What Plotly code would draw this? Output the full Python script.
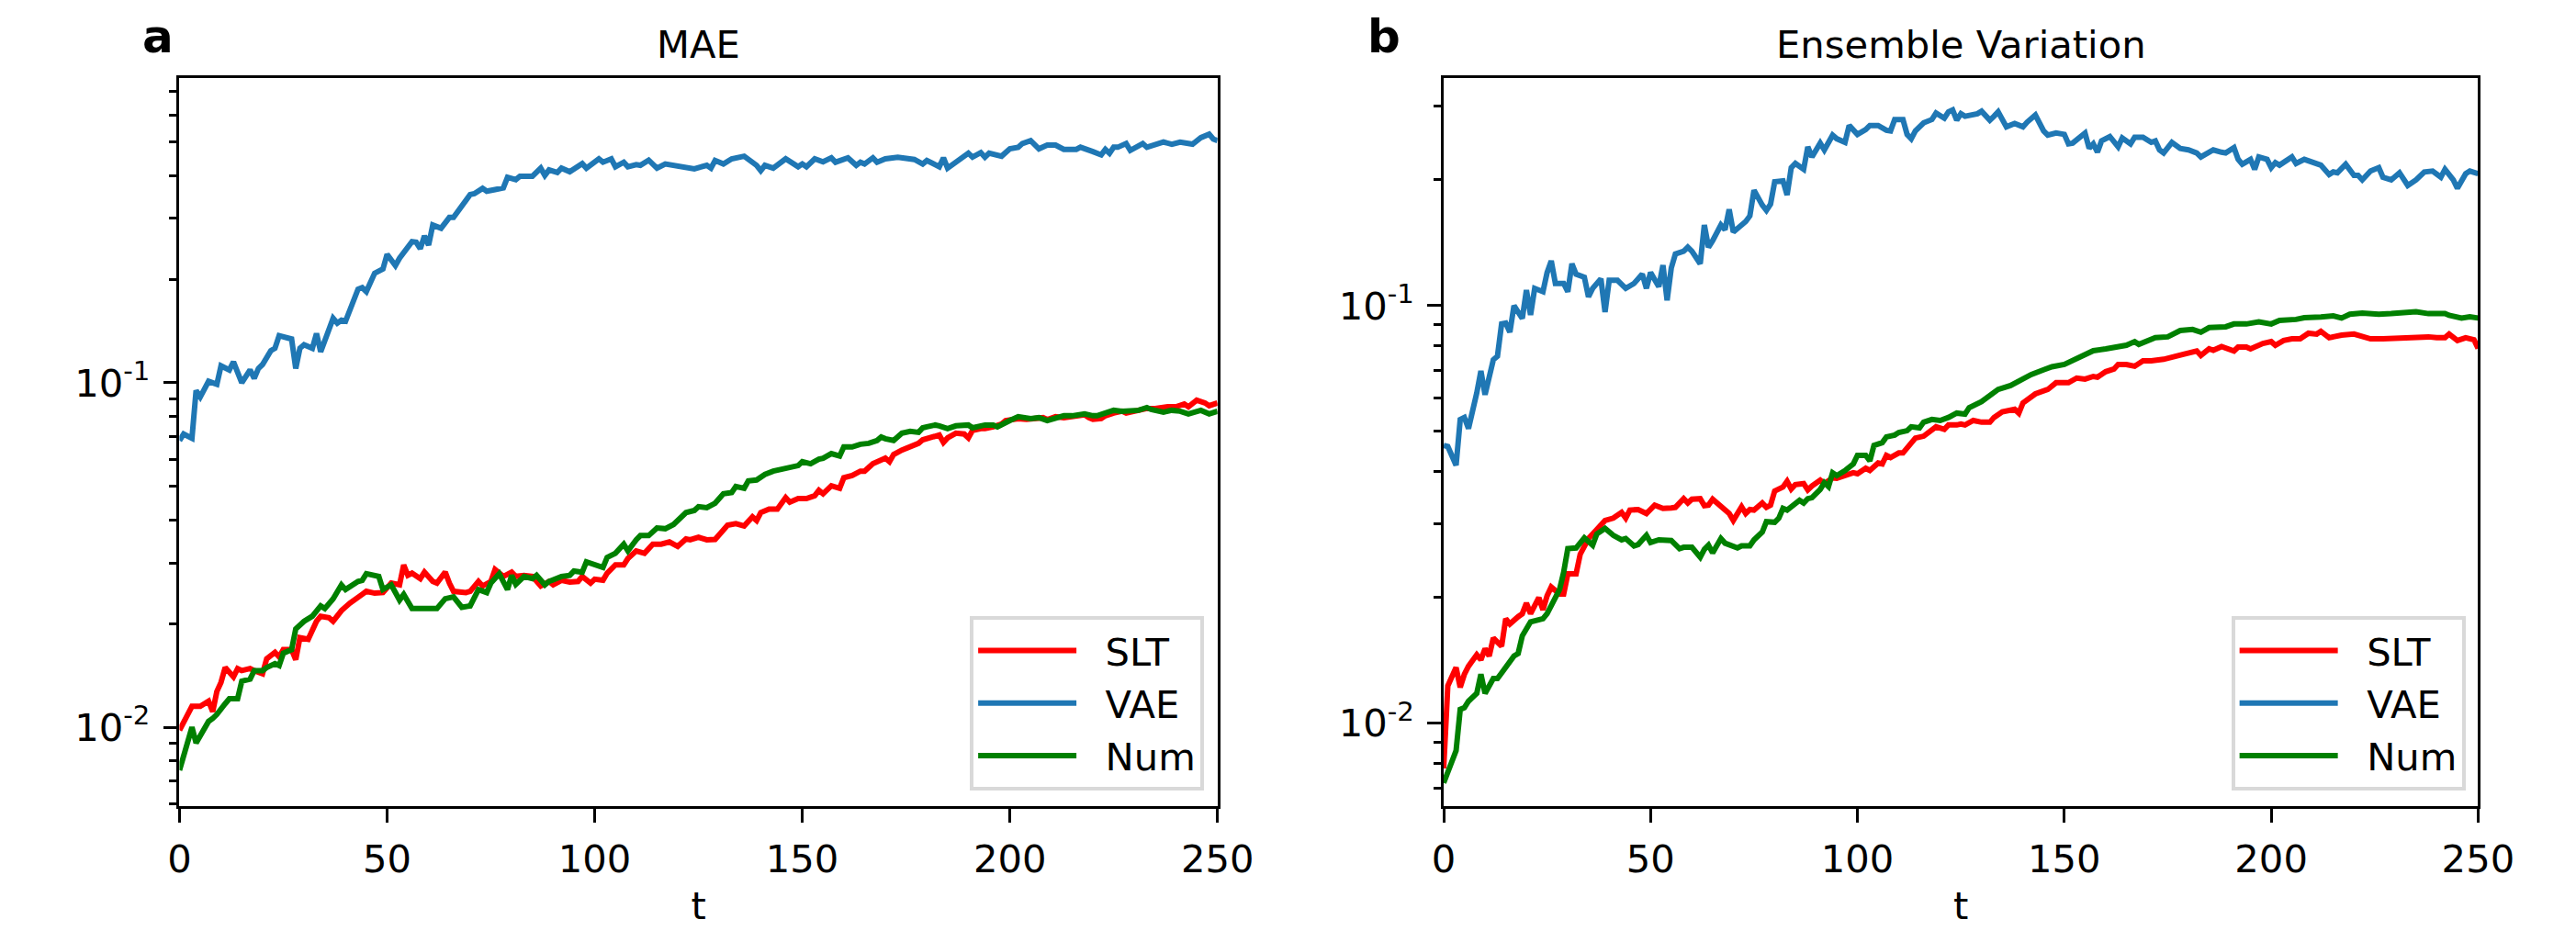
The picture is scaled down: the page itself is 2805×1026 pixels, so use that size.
import plotly.graph_objects as go

# panel a: MAE
mae_slt_t = [0, 2, 3, 5, 7, 8, 9, 10, 11, 13, 14, 15, 17, 18, 20, 21, 23, 24, 25, 27, 28, 29, 31, 33, 34, 36, 37, 39, 41, 44,
             45, 47, 49, 51, 53, 54, 55, 56, 58, 59, 61, 62, 64, 65, 66, 69, 70, 72, 73, 75, 76, 78, 80, 81, 83, 85, 87, 89, 90, 92,
             94, 96, 97, 99, 100, 102, 103, 105, 107, 108, 110, 112, 114, 116, 118, 120, 122, 123, 125, 127, 129, 131, 132, 134, 136, 138, 139, 140, 142, 144,
             146, 147, 149, 151, 153, 154, 155, 157, 159, 160, 162, 164, 165, 167, 168, 170, 171, 172, 174, 175, 177, 178, 179, 181, 183, 184, 185, 187, 189, 190,
             191, 193, 194, 196, 198, 199, 202, 204, 206, 208, 209, 211, 213, 215, 218, 219, 220, 222, 223, 225, 227, 228, 230, 232, 233, 235, 237, 238, 240, 242,
             243, 245, 247, 248, 250]
mae_slt = [0.0098, 0.0109, 0.0115, 0.0115, 0.0119, 0.0111, 0.0127, 0.0135, 0.0149, 0.0140, 0.0148, 0.0146, 0.0148, 0.0146, 0.0143, 0.0158, 0.0165, 0.0160, 0.0168, 0.0168, 0.0157, 0.0182, 0.0180, 0.0203, 0.0210, 0.0208, 0.0203, 0.0218, 0.0229, 0.0243,
           0.0248, 0.0245, 0.0246, 0.0262, 0.0259, 0.0296, 0.0276, 0.0280, 0.0270, 0.0282, 0.0265, 0.0262, 0.0282, 0.0262, 0.0248, 0.0246, 0.0248, 0.0265, 0.0257, 0.0265, 0.0287, 0.0274, 0.0282, 0.0274, 0.0276, 0.0274, 0.0257, 0.0265, 0.0259, 0.0267,
           0.0264, 0.0265, 0.0274, 0.0262, 0.0269, 0.0267, 0.0280, 0.0296, 0.0296, 0.0309, 0.0325, 0.0320, 0.0340, 0.0340, 0.0345, 0.0335, 0.0352, 0.0350, 0.0356, 0.0350, 0.0351, 0.0374, 0.0386, 0.0390, 0.0384, 0.0408, 0.0398, 0.0420, 0.0430, 0.0430,
           0.0464, 0.0450, 0.0461, 0.0461, 0.0470, 0.0487, 0.0476, 0.0502, 0.0494, 0.0530, 0.0538, 0.0554, 0.0554, 0.0582, 0.0590, 0.0604, 0.0590, 0.0619, 0.0638, 0.0646, 0.0663, 0.0667, 0.0683, 0.0692, 0.0705, 0.0671, 0.0692, 0.0714, 0.0710, 0.0692,
           0.0727, 0.0736, 0.0736, 0.0745, 0.0759, 0.0777, 0.0787, 0.0783, 0.0787, 0.0792, 0.0782, 0.0797, 0.0792, 0.0797, 0.0807, 0.0792, 0.0783, 0.0787, 0.0802, 0.0817, 0.0827, 0.0817, 0.0827, 0.0832, 0.0842, 0.0842, 0.0852, 0.0852, 0.0852, 0.0868,
           0.0852, 0.0890, 0.0874, 0.0858, 0.0874]

mae_vae_t = [0, 1, 3, 4, 5, 7, 9, 10, 12, 13, 15, 17, 18, 19, 20, 22, 23, 24, 27, 28, 29, 30, 32, 33, 34, 37, 38, 39, 40, 43,
             44, 45, 47, 49, 50, 52, 53, 54, 56, 57, 58, 59, 60, 61, 63, 65, 66, 70, 71, 73, 74, 76, 78, 79, 81, 82, 85, 87, 88, 89,
             91, 92, 94, 97, 98, 101, 102, 104, 105, 107, 108, 110, 111, 113, 115, 117, 122, 124, 127, 128, 129, 131, 133, 136, 139, 140, 141, 143, 146, 149,
             150, 151, 153, 155, 157, 158, 161, 163, 164, 165, 167, 168, 170, 173, 177, 179, 180, 183, 184, 185, 190, 191, 193, 194, 195, 198, 200, 202, 203, 205,
             207, 209, 211, 213, 216, 217, 220, 222, 223, 224, 225, 226, 228, 229, 232, 233, 237, 239, 241, 244, 246, 248, 249, 250]
mae_vae = [0.068, 0.071, 0.069, 0.095, 0.091, 0.101, 0.099, 0.112, 0.109, 0.115, 0.100, 0.109, 0.103, 0.110, 0.113, 0.124, 0.126, 0.137, 0.134, 0.110, 0.126, 0.129, 0.126, 0.139, 0.123, 0.154, 0.149, 0.152, 0.151, 0.187,
           0.189, 0.184, 0.208, 0.214, 0.236, 0.219, 0.230, 0.238, 0.257, 0.256, 0.245, 0.267, 0.251, 0.287, 0.281, 0.302, 0.302, 0.352, 0.354, 0.367, 0.360, 0.364, 0.368, 0.395, 0.389, 0.398, 0.398, 0.420, 0.400, 0.415,
           0.408, 0.420, 0.410, 0.433, 0.420, 0.447, 0.437, 0.447, 0.424, 0.437, 0.424, 0.430, 0.428, 0.443, 0.420, 0.432, 0.424, 0.418, 0.428, 0.420, 0.442, 0.432, 0.447, 0.455, 0.428, 0.413, 0.428, 0.420, 0.447, 0.424,
           0.432, 0.424, 0.447, 0.438, 0.450, 0.437, 0.450, 0.428, 0.437, 0.432, 0.450, 0.437, 0.447, 0.452, 0.445, 0.432, 0.442, 0.424, 0.450, 0.420, 0.464, 0.452, 0.466, 0.452, 0.464, 0.455, 0.478, 0.483, 0.495, 0.505,
           0.478, 0.490, 0.490, 0.476, 0.476, 0.483, 0.469, 0.459, 0.476, 0.464, 0.483, 0.483, 0.495, 0.473, 0.495, 0.483, 0.500, 0.493, 0.500, 0.493, 0.515, 0.527, 0.510, 0.505]

mae_num_t = [0, 1, 3, 4, 5, 7, 8, 9, 11, 12, 14, 15, 17, 18, 20, 21, 23, 24, 25, 27, 28, 30, 32, 34, 35, 37, 39, 40, 43, 44,
             45, 48, 49, 51, 53, 54, 56, 59, 61, 62, 64, 66, 68, 70, 72, 74, 75, 77, 79, 80, 81, 83, 85, 86, 88, 89, 92, 94, 95, 97,
             98, 100, 102, 103, 105, 107, 108, 110, 111, 113, 115, 117, 119, 122, 124, 125, 127, 129, 131, 133, 134, 136, 137, 139, 141, 143, 145, 147, 149, 150,
             152, 154, 155, 157, 159, 160, 162, 164, 166, 168, 169, 170, 172, 174, 176, 178, 179, 180, 182, 183, 185, 187, 189, 190, 191, 193, 194, 196, 197, 200,
             202, 205, 207, 209, 211, 213, 215, 218, 220, 221, 223, 225, 227, 229, 231, 233, 234, 237, 239, 241, 243, 246, 248, 250]
mae_num = [0.0075, 0.0083, 0.0100, 0.0090, 0.0094, 0.0104, 0.0106, 0.0109, 0.0117, 0.0121, 0.0121, 0.0136, 0.0138, 0.0146, 0.0146, 0.0149, 0.0153, 0.0151, 0.0164, 0.0168, 0.0193, 0.0203, 0.0210, 0.0225, 0.0221, 0.0236, 0.0259, 0.0251, 0.0265, 0.0267,
           0.0279, 0.0274, 0.0251, 0.0259, 0.0234, 0.0243, 0.0221, 0.0221, 0.0220, 0.0221, 0.0236, 0.0239, 0.0223, 0.0225, 0.0251, 0.0246, 0.0262, 0.0279, 0.0251, 0.0276, 0.0260, 0.0274, 0.0270, 0.0276, 0.0259, 0.0265, 0.0274, 0.0276, 0.0284, 0.0282,
           0.0302, 0.0296, 0.0291, 0.0311, 0.0320, 0.0340, 0.0325, 0.0350, 0.0360, 0.0360, 0.0379, 0.0377, 0.0388, 0.0420, 0.0426, 0.0437, 0.0434, 0.0447, 0.0476, 0.0480, 0.0500, 0.0494, 0.0519, 0.0522, 0.0542, 0.0554, 0.0562, 0.0572, 0.0575, 0.0590,
           0.0582, 0.0600, 0.0604, 0.0623, 0.0613, 0.0651, 0.0651, 0.0663, 0.0667, 0.0680, 0.0696, 0.0688, 0.0680, 0.0714, 0.0723, 0.0718, 0.0740, 0.0745, 0.0754, 0.0750, 0.0736, 0.0750, 0.0754, 0.0754, 0.0740, 0.0754, 0.0754, 0.0754, 0.0745, 0.0777,
           0.0797, 0.0787, 0.0792, 0.0777, 0.0792, 0.0802, 0.0802, 0.0812, 0.0802, 0.0802, 0.0817, 0.0832, 0.0827, 0.0827, 0.0832, 0.0847, 0.0837, 0.0822, 0.0832, 0.0827, 0.0812, 0.0832, 0.0812, 0.0827]

# panel b: Ensemble Variation
ev_slt_t = [0, 1, 3, 4, 5, 6, 8, 9, 10, 11, 12, 14, 15, 16, 18, 19, 20, 21, 23, 24, 25, 26, 28, 29, 30, 32, 33, 35, 37, 39,
            41, 43, 44, 45, 47, 49, 51, 53, 55, 56, 58, 59, 60, 62, 63, 64, 65, 67, 68, 69, 70, 72, 73, 74, 75, 77, 78, 79, 80, 82,
            83, 84, 85, 87, 88, 89, 91, 92, 94, 95, 97, 99, 100, 102, 103, 105, 106, 107, 108, 110, 111, 113, 114, 116, 117, 119, 121, 122, 124, 125,
            126, 128, 130, 132, 133, 135, 138, 139, 140, 143, 146, 148, 151, 153, 155, 157, 158, 160, 162, 163, 165, 167, 169, 171, 174, 176, 179, 182, 183, 185,
            186, 188, 191, 192, 194, 195, 198, 200, 201, 203, 205, 207, 209, 211, 212, 214, 217, 220, 222, 224, 227, 231, 234, 238, 240, 242, 243, 245, 247, 249,
            250]
ev_slt = [0.0078, 0.0123, 0.0136, 0.0122, 0.0131, 0.0137, 0.0146, 0.0142, 0.0151, 0.0145, 0.0160, 0.0153, 0.0178, 0.0173, 0.0180, 0.0183, 0.0194, 0.0183, 0.0200, 0.0187, 0.0202, 0.0212, 0.0204, 0.0204, 0.0228, 0.0228, 0.0254, 0.0277, 0.0291, 0.0306,
          0.0310, 0.0320, 0.0310, 0.0324, 0.0325, 0.0318, 0.0333, 0.0327, 0.0328, 0.0329, 0.0345, 0.0337, 0.0344, 0.0345, 0.0332, 0.0333, 0.0344, 0.0330, 0.0322, 0.0318, 0.0306, 0.0330, 0.0318, 0.0325, 0.0324, 0.0337, 0.0329, 0.0333, 0.0360, 0.0368,
          0.0380, 0.0364, 0.0373, 0.0375, 0.0362, 0.0370, 0.0382, 0.0375, 0.0387, 0.0386, 0.0392, 0.0398, 0.0396, 0.0408, 0.0403, 0.0420, 0.0418, 0.0438, 0.0433, 0.0444, 0.0444, 0.0468, 0.0482, 0.0487, 0.0497, 0.0513, 0.0506, 0.0518, 0.0518, 0.0521,
          0.0518, 0.0531, 0.0526, 0.0526, 0.0540, 0.0557, 0.0565, 0.0553, 0.0585, 0.0615, 0.0630, 0.0654, 0.0654, 0.0671, 0.0667, 0.0677, 0.0674, 0.0695, 0.0705, 0.0723, 0.0723, 0.0716, 0.0738, 0.0738, 0.0744, 0.0755, 0.0766, 0.0779, 0.0760, 0.0788,
          0.0782, 0.0798, 0.0779, 0.0796, 0.0796, 0.0788, 0.0812, 0.0820, 0.0804, 0.0825, 0.0833, 0.0833, 0.0859, 0.0855, 0.0868, 0.0838, 0.0850, 0.0855, 0.0842, 0.0833, 0.0833, 0.0838, 0.0842, 0.0842, 0.0838, 0.0838, 0.0855, 0.0825, 0.0838, 0.0829,
          0.0790]

ev_vae_t = [0, 1, 3, 4, 5, 6, 8, 9, 10, 12, 13, 14, 15, 16, 17, 19, 20, 21, 22, 24, 25, 26, 27, 29, 30, 31, 32, 34, 35, 36,
            38, 39, 40, 42, 44, 46, 48, 49, 50, 52, 53, 54, 55, 56, 58, 59, 60, 62, 63, 64, 65, 67, 68, 69, 70, 72, 73, 74, 75, 77,
            78, 79, 80, 82, 83, 84, 85, 87, 88, 89, 91, 92, 94, 95, 97, 98, 100, 102, 103, 105, 107, 108, 109, 111, 112, 113, 114, 116, 117, 118,
            119, 121, 122, 123, 124, 125, 126, 128, 129, 130, 132, 133, 134, 136, 138, 140, 141, 143, 145, 146, 148, 150, 151, 152, 155, 156, 157, 158, 159, 161,
            163, 164, 166, 167, 169, 171, 172, 173, 174, 176, 178, 180, 182, 183, 186, 188, 189, 191, 192, 193, 195, 196, 197, 199, 200, 201, 202, 205, 206, 208,
            210, 212, 214, 215, 216, 218, 220, 221, 222, 224, 226, 227, 229, 231, 233, 235, 237, 239, 241, 242, 244, 245, 247, 248, 250]
ev_vae = [0.0463, 0.046, 0.0415, 0.0534, 0.054, 0.0508, 0.0618, 0.0698, 0.0612, 0.0742, 0.0757, 0.0904, 0.0908, 0.0864, 0.100, 0.0932, 0.109, 0.095, 0.110, 0.108, 0.120, 0.128, 0.113, 0.113, 0.108, 0.126, 0.119, 0.117, 0.105, 0.110,
          0.116, 0.0965, 0.115, 0.115, 0.110, 0.113, 0.119, 0.110, 0.120, 0.111, 0.125, 0.103, 0.123, 0.133, 0.135, 0.138, 0.135, 0.126, 0.156, 0.138, 0.143, 0.156, 0.152, 0.170, 0.150, 0.155, 0.159, 0.164, 0.189, 0.174,
          0.169, 0.175, 0.198, 0.199, 0.184, 0.214, 0.219, 0.212, 0.240, 0.227, 0.245, 0.236, 0.256, 0.251, 0.246, 0.270, 0.257, 0.264, 0.270, 0.270, 0.263, 0.262, 0.279, 0.279, 0.257, 0.251, 0.262, 0.274, 0.277, 0.279,
          0.289, 0.281, 0.291, 0.294, 0.278, 0.288, 0.284, 0.286, 0.288, 0.292, 0.278, 0.284, 0.291, 0.268, 0.273, 0.268, 0.275, 0.286, 0.262, 0.256, 0.259, 0.257, 0.244, 0.245, 0.259, 0.238, 0.244, 0.233, 0.248, 0.254,
          0.240, 0.252, 0.244, 0.253, 0.253, 0.246, 0.248, 0.236, 0.232, 0.246, 0.238, 0.236, 0.232, 0.227, 0.236, 0.233, 0.232, 0.239, 0.224, 0.218, 0.224, 0.212, 0.227, 0.224, 0.214, 0.220, 0.217, 0.227, 0.219, 0.224,
          0.221, 0.217, 0.206, 0.209, 0.208, 0.218, 0.205, 0.205, 0.200, 0.210, 0.214, 0.203, 0.200, 0.208, 0.194, 0.200, 0.209, 0.210, 0.203, 0.212, 0.200, 0.191, 0.207, 0.210, 0.207]

ev_num_t = [0, 1, 3, 4, 5, 6, 8, 9, 10, 12, 13, 14, 15, 17, 18, 19, 21, 24, 25, 27, 28, 29, 30, 32, 33, 34, 36, 37, 39, 41,
            43, 44, 46, 47, 49, 50, 52, 55, 57, 58, 60, 62, 63, 64, 65, 67, 68, 69, 71, 72, 74, 75, 77, 78, 80, 81, 82, 83, 85, 86,
            87, 88, 89, 91, 92, 93, 94, 95, 97, 99, 100, 102, 103, 104, 106, 107, 109, 110, 112, 113, 115, 116, 118, 120, 122, 124, 126, 127, 130, 132,
            134, 137, 139, 142, 145, 147, 150, 152, 155, 157, 160, 163, 165, 167, 168, 172, 175, 178, 181, 183, 185, 189, 191, 194, 197, 200, 202, 206, 208, 212,
            215, 217, 219, 222, 226, 229, 232, 235, 238, 240, 242, 243, 246, 248, 250]
ev_num = [0.0072, 0.0076, 0.0086, 0.0108, 0.0109, 0.0113, 0.0118, 0.0131, 0.0118, 0.0128, 0.0128, 0.0132, 0.0136, 0.0145, 0.0147, 0.0162, 0.0175, 0.0178, 0.0183, 0.0199, 0.0209, 0.0230, 0.0262, 0.0263, 0.0272, 0.0278, 0.0267, 0.0284, 0.0293, 0.0282,
          0.0275, 0.0277, 0.0266, 0.0268, 0.0282, 0.0271, 0.0275, 0.0274, 0.0262, 0.0264, 0.0264, 0.0250, 0.0261, 0.0267, 0.0256, 0.0277, 0.0270, 0.0268, 0.0263, 0.0266, 0.0266, 0.0275, 0.0287, 0.0304, 0.0303, 0.0310, 0.0327, 0.0324, 0.0335, 0.0342,
          0.0337, 0.0345, 0.0347, 0.0363, 0.0377, 0.0369, 0.0398, 0.0392, 0.0403, 0.0418, 0.0438, 0.0438, 0.0425, 0.0463, 0.0470, 0.0485, 0.0490, 0.0497, 0.0502, 0.0513, 0.0510, 0.0526, 0.0534, 0.0531, 0.0540, 0.0553, 0.0550, 0.0570, 0.0589, 0.0610,
          0.0630, 0.0644, 0.0660, 0.0684, 0.0702, 0.0714, 0.0723, 0.0738, 0.0763, 0.0780, 0.0788, 0.0798, 0.0804, 0.0820, 0.0808, 0.0838, 0.0842, 0.0872, 0.0877, 0.0864, 0.0886, 0.0890, 0.0904, 0.0904, 0.0915, 0.0904, 0.0922, 0.0927, 0.0936, 0.0940,
          0.0945, 0.0934, 0.0954, 0.0960, 0.0954, 0.0957, 0.0960, 0.0967, 0.0957, 0.0954, 0.0957, 0.0948, 0.0934, 0.0940, 0.0934]

series_names = ["SLT", "VAE", "Num"]
series_colors = ["#ff0000", "#1f77b4", "#008000"]
panel_titles = ["MAE", "Ensemble Variation"]
panel_letters = ["a", "b"]
x_ticks = [0, 50, 100, 150, 200, 250]
y_major = [0.01, 0.1]
y_major_text = ["10<sup>-2</sup>", "10<sup>-1</sup>"]

FONT = "DejaVu Sans"
FS = 41.7
GAP = "\u00a0\u00a0"  # room between legend line and label, like matplotlib's handletextpad

fig = go.Figure()

panels = [
    ("x", "y", "legend", [(mae_slt_t, mae_slt), (mae_vae_t, mae_vae), (mae_num_t, mae_num)]),
    ("x2", "y2", "legend2", [(ev_slt_t, ev_slt), (ev_vae_t, ev_vae), (ev_num_t, ev_num)]),
]
for xa, ya, lg, data in panels:
    for name, color, (tt, vv) in zip(series_names, series_colors, data):
        fig.add_trace(go.Scatter(x=tt, y=vv, mode="lines", name=GAP + name, xaxis=xa, yaxis=ya,
                                 legend=lg, line=dict(color=color, width=6)))

xcommon = dict(range=[0, 250], tickvals=x_ticks, ticks="outside", ticklen=14.6, tickwidth=3.3,
               tickcolor="black", showline=True, linewidth=3.3, linecolor="black", mirror=True,
               showgrid=False, zeroline=False, tickfont=dict(family=FONT, size=FS, color="black"),
               ticklabelstandoff=4,
               title=dict(text="t", font=dict(family=FONT, size=FS, color="black"), standoff=14))
ycommon = dict(type="log", tickvals=y_major, ticktext=y_major_text, ticks="outside", ticklen=14.6,
               tickwidth=3.3, tickcolor="black", showline=True, linewidth=3.3, linecolor="black",
               mirror=True, showgrid=False, zeroline=False, ticklabelstandoff=6,
               tickfont=dict(family=FONT, size=FS, color="black"))

minor_a = [0.006, 0.007, 0.008, 0.009, 0.02, 0.03, 0.04, 0.05, 0.06, 0.07, 0.08, 0.09,
           0.2, 0.3, 0.4, 0.5, 0.6, 0.7]
minor_b = [0.007, 0.008, 0.009, 0.02, 0.03, 0.04, 0.05, 0.06, 0.07, 0.08, 0.09, 0.2, 0.3]

legend_style = dict(bgcolor="rgba(255,255,255,0.8)", bordercolor="#d9d9d9", borderwidth=4,
                    font=dict(family=FONT, size=FS, color="black"), xanchor="right",
                    yanchor="bottom", itemwidth=107)

fig.update_layout(
    width=2805, height=1026,
    margin=dict(l=0, r=0, t=0, b=0),
    paper_bgcolor="white", plot_bgcolor="white",
    xaxis=dict(domain=[0.0663, 0.4770], anchor="y", **xcommon),
    xaxis2=dict(domain=[0.5665, 0.9758], anchor="y2", **xcommon),
    yaxis=dict(domain=[0.1443, 0.9172], anchor="x", range=[-2.229, -0.115],
               minor=dict(tickvals=minor_a, ticks="outside", ticklen=8.3, tickwidth=2.5, tickcolor="black"),
               **ycommon),
    yaxis2=dict(domain=[0.1443, 0.9172], anchor="x2", range=[-2.198, -0.455],
                minor=dict(tickvals=minor_b, ticks="outside", ticklen=8.3, tickwidth=2.5, tickcolor="black"),
                **ycommon),
    legend=dict(x=0.4717, y=0.1608, **legend_style),
    legend2=dict(x=0.9708, y=0.1608, **legend_style),
)

title_x = [(0.0663 + 0.4770) / 2, (0.5665 + 0.9758) / 2]
letter_x = [0.051, 0.5355]
for title, letter, tx, lx in zip(panel_titles, panel_letters, title_x, letter_x):
    fig.add_annotation(text=title, x=tx, y=0.927, xref="paper", yref="paper", xanchor="center",
                       yanchor="bottom", showarrow=False,
                       font=dict(family=FONT, size=FS, color="black"))
    fig.add_annotation(text="<b>" + letter + "</b>", x=lx, y=0.931, xref="paper", yref="paper",
                       xanchor="left", yanchor="bottom", showarrow=False,
                       font=dict(family=FONT, size=50, color="black"))

fig.write_html("out.html", config={"displayModeBar": False},
               post_script="document.body.style.margin='0';")
